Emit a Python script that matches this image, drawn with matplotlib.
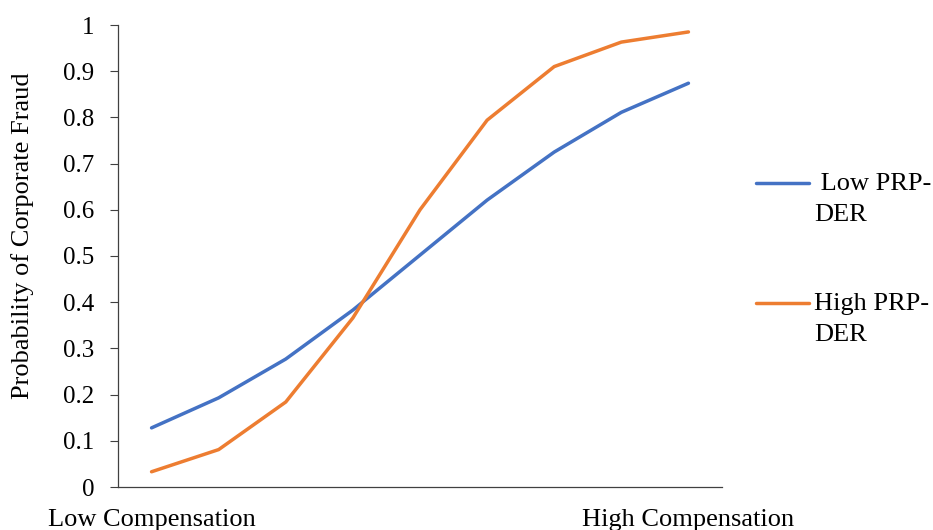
import matplotlib
matplotlib.use("Agg")
import matplotlib.pyplot as plt
import numpy as np

plt.rcParams['font.family'] = ['Liberation Serif', 'DejaVu Serif']

categories = ["Low Compensation", "", "", "", "", "", "", "", "High Compensation"]
low_prp_der = [0.128, 0.193, 0.277, 0.383, 0.502, 0.621, 0.725, 0.811, 0.874]
high_prp_der = [0.033, 0.081, 0.184, 0.366, 0.600, 0.794, 0.910, 0.963, 0.985]
series_labels = [" Low PRP-\nDER", "High PRP-\nDER"]
y_ticks = [0, 0.1, 0.2, 0.3, 0.4, 0.5, 0.6, 0.7, 0.8, 0.9, 1]
y_ticklabels = ["0", "0.1", "0.2", "0.3", "0.4", "0.5", "0.6", "0.7", "0.8", "0.9", "1"]

fig = plt.figure(figsize=(9.33, 5.30), dpi=100)
ax = fig.add_axes([118/933, 1-487/530, (722-118)/933, (487-25)/530])

x = np.arange(len(categories))
l1, = ax.plot(x, low_prp_der, color="#4472C4", lw=2.5, solid_capstyle="round", label=series_labels[0])
l2, = ax.plot(x, high_prp_der, color="#ED7D31", lw=2.5, solid_capstyle="round", label=series_labels[1])

ax.set_xlim(-0.5, len(categories) - 0.5)
ax.set_ylim(0, 1)
ax.set_yticks(y_ticks)
ax.set_yticklabels(y_ticklabels, fontsize=18)
ax.set_xticks(x)
ax.set_xticklabels(categories, fontsize=19)
ax.tick_params(axis='x', length=0, pad=16)
ax.tick_params(axis='y', length=6, width=0.8, pad=11, color="#404040")

for s in ["top", "right"]:
    ax.spines[s].set_visible(False)
for s in ["left", "bottom"]:
    ax.spines[s].set_color("#404040")
    ax.spines[s].set_linewidth(0.9)

ax.set_ylabel("Probability of Corporate Fraud", fontsize=19)
ax.yaxis.set_label_coords(-0.139, 0.545)

leg = ax.legend(handles=[l1, l2], loc="upper left", bbox_to_anchor=(1.017, 0.73),
                frameon=False, fontsize=19, handlelength=2.0, handletextpad=0.2,
                labelspacing=2.55, borderpad=0.4)
for t in leg.get_texts():
    t.set_linespacing(1.5)
# align handle with the first text line
for col in leg._legend_handle_box.get_children():
    for item in col.get_children():
        item.align = "top"

fig.savefig("out.png", dpi=100)
